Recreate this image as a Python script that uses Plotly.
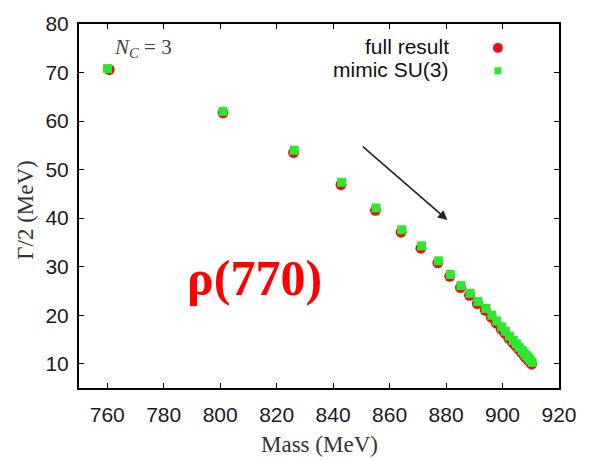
import plotly.graph_objects as go

# Mass and half-width (MeV) of the rho pole
mass_full = [760.7, 801.0, 826.0, 842.8, 855.0, 864.1, 871.1, 877.1, 881.3, 885.1,
             888.3, 891.1, 893.9, 896.0, 897.7, 899.5, 900.8, 902.2, 903.6, 904.7,
             905.7, 906.8, 907.5, 908.2, 908.9, 909.6, 910.3]
width_full = [70.6, 61.7, 53.5, 46.9, 41.6, 37.1, 33.8, 30.8, 28.0, 25.7,
              24.1, 22.4, 21.0, 19.6, 18.4, 17.2, 16.3, 15.3, 14.4, 13.7,
              13.0, 12.3, 11.8, 11.3, 10.9, 10.4, 9.9]

mass_su3 = [760.1, 801.0, 826.2, 843.0, 855.2, 864.3, 871.3, 877.3, 881.5, 885.3,
            888.5, 891.3, 894.1, 896.2, 897.9, 899.7, 901.0, 902.4, 903.8, 904.9,
            905.9, 907.0, 907.7, 908.4, 909.1, 909.8, 910.5]
width_su3 = [70.8, 62.0, 54.0, 47.4, 42.1, 37.6, 34.3, 31.2, 28.4, 26.1,
             24.5, 22.8, 21.4, 20.0, 18.8, 17.6, 16.7, 15.7, 14.8, 14.1,
             13.4, 12.7, 12.2, 11.7, 11.3, 10.8, 10.3]

x_ticks = [760, 780, 800, 820, 840, 860, 880, 900, 920]
y_ticks = [10, 20, 30, 40, 50, 60, 70, 80]

RED = "#e01414"
GREEN = "#2ee82e"

fig = go.Figure()
fig.add_trace(go.Scatter(
    x=mass_full, y=width_full, mode="markers", name="full result",
    marker=dict(symbol="circle", size=11, color=RED, line=dict(width=0)),
))
fig.add_trace(go.Scatter(
    x=mass_su3, y=width_su3, mode="markers", name="mimic SU(3)",
    marker=dict(symbol="square", size=9, color=GREEN, line=dict(width=0)),
))

axis_common = dict(
    showline=True, linecolor="black", linewidth=2, mirror="ticks",
    ticks="inside", ticklen=5, tickwidth=1.2, tickcolor="black",
    showgrid=False, zeroline=False,
    tickfont=dict(family="Liberation Sans, Arial, sans-serif", size=21, color="#1a1a1a"),
)

fig.update_layout(
    width=589, height=460,
    margin=dict(l=79, r=23, t=22, b=72),
    paper_bgcolor="white", plot_bgcolor="white",
    showlegend=False,
    xaxis=dict(range=[750, 920], tickvals=x_ticks, ticklabelstandoff=7, **axis_common),
    yaxis=dict(range=[5, 80], tickvals=y_ticks, ticklabelstandoff=4, **axis_common),
)

serif = "Liberation Serif, Times New Roman, serif"

# Axis titles
fig.add_annotation(xref="paper", yref="paper", x=0.5, y=-0.155, yanchor="middle",
                   text="Mass (MeV)", showarrow=False,
                   font=dict(family=serif, size=23, color="#333333"))
fig.add_annotation(xref="paper", yref="paper", x=-0.113, y=0.489, xanchor="center",
                   yanchor="middle", text="Γ/2 (MeV)", showarrow=False, textangle=-90,
                   font=dict(family=serif, size=23, color="#333333"))

# N_C label
fig.add_annotation(xref="paper", yref="paper", x=0.068, y=0.934, xanchor="left", yanchor="middle",
                   text="<i>N</i><sub><i>C</i></sub> = 3", showarrow=False,
                   font=dict(family=serif, size=21, color="#444444"))

# Key, text left of the symbols
fig.add_annotation(xref="paper", yref="paper", x=0.776, y=0.937, xanchor="right", yanchor="middle",
                   text="full result", showarrow=False,
                   font=dict(family="Liberation Sans, Arial, sans-serif", size=21, color="#111111"))
fig.add_annotation(xref="paper", yref="paper", x=0.776, y=0.874, xanchor="right", yanchor="middle",
                   text="mimic SU(3)", showarrow=False,
                   font=dict(family="Liberation Sans, Arial, sans-serif", size=21, color="#111111"))
fig.add_shape(type="circle", xref="paper", yref="paper",
              x0=0.8727 - 5 / 487, x1=0.8727 + 5 / 487, y0=0.9344 - 5 / 366, y1=0.9344 + 5 / 366,
              fillcolor=RED, line=dict(width=0))
fig.add_shape(type="rect", xref="paper", yref="paper",
              x0=0.8727 - 3.5 / 487, x1=0.8727 + 3.5 / 487, y0=0.8716 - 3.5 / 366, y1=0.8716 + 3.5 / 366,
              fillcolor=GREEN, line=dict(width=0))

# Trend arrow
fig.add_annotation(x=880.5, y=39.6, ax=850, ay=55.0, xref="x", yref="y", axref="x", ayref="y",
                   text="", showarrow=True, arrowhead=2, arrowsize=1.2, arrowwidth=1.6,
                   arrowcolor="#222222")

# Resonance name
fig.add_annotation(xref="paper", yref="paper", x=0.366, y=0.303, xanchor="center", yanchor="middle",
                   text="<b>ρ(770)</b>", showarrow=False,
                   font=dict(family=serif, size=50, color="#ff0000"))

fig.write_html("out.html")
